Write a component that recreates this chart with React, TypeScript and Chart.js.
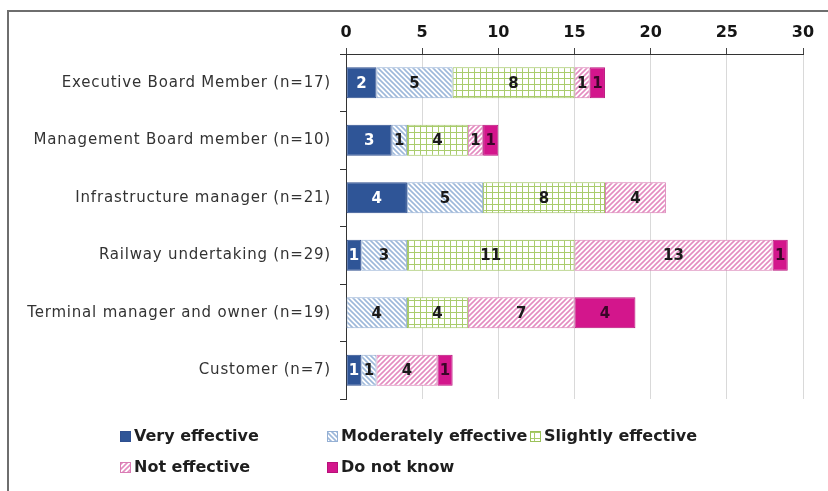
import React, { useEffect, useRef } from "react";
import { Chart, registerables } from "chart.js";

Chart.register(...registerables);

const categories = [
  "Executive Board Member (n=17)",
  "Management Board member (n=10)",
  "Infrastructure manager (n=21)",
  "Railway undertaking (n=29)",
  "Terminal manager and owner (n=19)",
  "Customer (n=7)",
];
const seriesNames = ["Very effective", "Moderately effective", "Slightly effective", "Not effective", "Do not know"];
const veryEffective = [2, 3, 4, 1, 0, 1];
const moderatelyEffective = [5, 1, 5, 3, 4, 1];
const slightlyEffective = [8, 4, 8, 11, 4, 0];
const notEffective = [1, 1, 4, 13, 7, 4];
const doNotKnow = [1, 1, 0, 1, 4, 1];
const xTicks = [0, 5, 10, 15, 20, 25, 30];

const FONT = "'DejaVu Sans', Verdana, sans-serif";

function makePattern(kind: string): CanvasPattern | string {
  const c = document.createElement("canvas");
  const ctx = c.getContext("2d")!;
  if (kind === "mod" || kind === "not") {
    const s = 5;
    c.width = s; c.height = s;
    ctx.fillStyle = "#ffffff";
    ctx.fillRect(0, 0, s, s);
    ctx.strokeStyle = kind === "mod" ? "#9db8da" : "#e48cc0";
    ctx.lineWidth = 1.6;
    ctx.beginPath();
    if (kind === "mod") {
      ctx.moveTo(-1, -1); ctx.lineTo(s + 1, s + 1);
      ctx.moveTo(-1, s - 1); ctx.lineTo(1, s + 1);
      ctx.moveTo(s - 1, -1); ctx.lineTo(s + 1, 1);
    } else {
      ctx.moveTo(-1, s + 1); ctx.lineTo(s + 1, -1);
      ctx.moveTo(-1, 1); ctx.lineTo(1, -1);
      ctx.moveTo(s - 1, s + 1); ctx.lineTo(s + 1, s - 1);
    }
    ctx.stroke();
  } else {
    const s = 6;
    c.width = s; c.height = s;
    ctx.fillStyle = "#ffffff";
    ctx.fillRect(0, 0, s, s);
    ctx.fillStyle = "#a9cc6c";
    ctx.fillRect(0, 0, s, 1);
    ctx.fillRect(0, 0, 1, s);
  }
  return ctx.createPattern(c, "repeat") || "#fff";
}

export default function App() {
  const ref = useRef<HTMLCanvasElement>(null);
  useEffect(() => {
    if (!ref.current) return;
    const fills = ["#2f5597", makePattern("mod"), makePattern("slight"), makePattern("not"), "#d3168c"];
    const borders = ["#2f4f8f", "#95b0d4", "#9bc15a", "#d97db4", "#b8107a"];
    const labelColors = ["#ffffff", "#1a1a1a", "#1a1a1a", "#1a1a1a", "#3a0628"];
    const values = [veryEffective, moderatelyEffective, slightlyEffective, notEffective, doNotKnow];

    const frame = {
      id: "frame",
      beforeDraw(chart: any) {
        const ctx = chart.ctx;
        ctx.save();
        ctx.fillStyle = "#ffffff";
        ctx.fillRect(0, 0, chart.width, chart.height);
        ctx.strokeStyle = "#6e6e6e";
        ctx.lineWidth = 2;
        ctx.beginPath();
        ctx.moveTo(8, 491);
        ctx.lineTo(8, 11);
        ctx.lineTo(828, 11);
        ctx.stroke();
        ctx.restore();
      },
    };

    const yLabels = {
      id: "yLabels",
      afterDraw(chart: any) {
        const ctx = chart.ctx;
        const y = chart.scales.y;
        ctx.save();
        ctx.font = `15px ${FONT}`;
        (ctx as any).letterSpacing = "0.8px";
        ctx.fillStyle = "#333333";
        ctx.textAlign = "right";
        ctx.textBaseline = "middle";
        chart.data.labels.forEach((lab: string, i: number) => {
          ctx.fillText(lab, 331, y.getPixelForValue(i));
        });
        ctx.restore();
      },
    };

    const dataLabels = {
      id: "dataLabels",
      afterDatasetsDraw(chart: any) {
        const ctx = chart.ctx;
        ctx.save();
        ctx.font = `bold 15px ${FONT}`;
        ctx.textAlign = "center";
        ctx.textBaseline = "middle";
        chart.data.datasets.forEach((ds: any, di: number) => {
          const meta = chart.getDatasetMeta(di);
          meta.data.forEach((bar: any, i: number) => {
            const v = ds.data[i];
            if (!v) return;
            const cx = (bar.x + bar.base) / 2;
            ctx.fillStyle = labelColors[di];
            ctx.fillText(String(v), cx, bar.y + 1);
          });
        });
        ctx.restore();
      },
    };

    const legendPos = [
      [120, 437], [327, 437], [530, 437], [120, 468], [327, 468],
    ];
    const customLegend = {
      id: "customLegend",
      afterDraw(chart: any) {
        const ctx = chart.ctx;
        ctx.save();
        ctx.font = `bold 16px ${FONT}`;
        ctx.textBaseline = "middle";
        ctx.textAlign = "left";
        seriesNames.forEach((name, i) => {
          const [x, y] = legendPos[i];
          ctx.fillStyle = fills[i] as any;
          ctx.fillRect(x, y - 6, 11, 11);
          ctx.strokeStyle = borders[i];
          ctx.lineWidth = 1;
          ctx.strokeRect(x + 0.5, y - 5.5, 10, 10);
          ctx.fillStyle = "#1e1e1e";
          ctx.fillText(name, x + 14, y);
        });
        ctx.restore();
      },
    };

    const chart = new Chart(ref.current, {
      type: "bar",
      data: {
        labels: categories,
        datasets: seriesNames.map((name, i) => ({
          label: name,
          data: values[i],
          backgroundColor: fills[i] as any,
          borderColor: borders[i],
          borderWidth: 1,
          borderSkipped: false,
          barPercentage: 0.9,
          categoryPercentage: 0.6,
        })),
      },
      options: {
        indexAxis: "y",
        responsive: false,
        animation: false,
        layout: { padding: { left: 0, right: 25, top: 0, bottom: 92 } },
        plugins: { legend: { display: false }, tooltip: { enabled: false } },
        scales: {
          x: {
            position: "top",
            stacked: true,
            min: 0,
            max: 30,
            afterBuildTicks(scale: any) {
              scale.ticks = xTicks.map((v) => ({ value: v }));
            },
            afterFit(scale: any) {
              scale.height = 54;
            },
            ticks: {
              font: { family: FONT, size: 16, weight: "bold" },
              color: "#151515",
              padding: 6,
            },
            grid: { color: "#d9d9d9", tickColor: "#444", tickLength: 6 },
            border: { color: "#333", width: 1 },
          },
          y: {
            stacked: true,
            afterFit(scale: any) {
              scale.width = 346;
            },
            ticks: { display: false },
            grid: { drawOnChartArea: false, offset: true, tickColor: "#333", tickLength: 6 },
            border: { color: "#333", width: 1 },
          },
        },
      } as any,
      plugins: [frame, yLabels, dataLabels, customLegend],
    });
    return () => chart.destroy();
  }, []);

  return (
    <div style={{ position: "absolute", left: 0, top: 0, width: 828, height: 491, background: "#fff" }}>
      <canvas ref={ref} width={828} height={491} style={{ display: "block" }} />
    </div>
  );
}
